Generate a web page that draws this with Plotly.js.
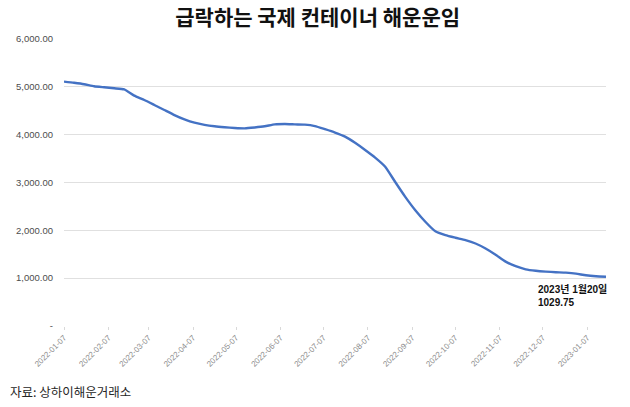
<!DOCTYPE html>
<html>
<head>
<meta charset="utf-8">
<script src="https://cdn.plot.ly/plotly-3.0.1.min.js"></script>
<style>
  html, body { margin: 0; padding: 0; background: #ffffff; }
  #chart { width: 630px; height: 407px; }
</style>
</head>
<body>
<div id="chart"></div>
<script>
// weekly SCFI readings
const weeks = [
    '2022-01-07', '2022-01-14', '2022-01-21', '2022-01-28', '2022-02-04', '2022-02-11',
    '2022-02-18', '2022-02-25', '2022-03-04', '2022-03-11', '2022-03-18', '2022-03-25',
    '2022-04-01', '2022-04-08', '2022-04-15', '2022-04-22', '2022-04-29', '2022-05-06',
    '2022-05-13', '2022-05-20', '2022-05-27', '2022-06-03', '2022-06-10', '2022-06-17',
    '2022-06-24', '2022-07-01', '2022-07-08', '2022-07-15', '2022-07-22', '2022-07-29',
    '2022-08-05', '2022-08-12', '2022-08-19', '2022-08-26', '2022-09-02', '2022-09-09',
    '2022-09-16', '2022-09-23', '2022-09-30', '2022-10-07', '2022-10-14', '2022-10-21',
    '2022-10-28', '2022-11-04', '2022-11-11', '2022-11-18', '2022-11-25', '2022-12-02',
    '2022-12-09', '2022-12-16', '2022-12-23', '2022-12-30', '2023-01-06', '2023-01-13',
    '2023-01-20'
];
const scfi = [
    5109.60, 5085, 5055, 5012, 4990, 4970,
    4945, 4815, 4725, 4620, 4515, 4410,
    4320, 4250, 4205, 4175, 4155, 4140,
    4132, 4150, 4175, 4215, 4222, 4215,
    4210, 4180, 4115, 4045, 3960, 3830,
    3680, 3520, 3330, 3010, 2700, 2420,
    2180, 1980, 1900, 1845, 1795, 1725,
    1620, 1490, 1345, 1250, 1185, 1155,
    1137, 1125, 1115, 1095, 1060, 1040,
    1029.75
];

// axis ticks
const monthTicks = [
    '2022-01-07', '2022-02-07', '2022-03-07', '2022-04-07', '2022-05-07', '2022-06-07',
    '2022-07-07', '2022-08-07', '2022-09-07', '2022-10-07', '2022-11-07', '2022-12-07',
    '2023-01-07'
];
const yTicks = [0, 1000, 2000, 3000, 4000, 5000, 6000];
const yTickText = ['-', '1,000.00', '2,000.00', '3,000.00', '4,000.00', '5,000.00', '6,000.00'];

const titleText = '급락하는 국제 컨테이너 해운운임';
const lastLabel = '2023년 1월20일<br>1029.75';
const sourceText = '자료: 상하이해운거래소';

const trace = {
    x: weeks,
    y: scfi,
    type: 'scatter',
    mode: 'lines',
    line: { color: '#4472C4', width: 2.4, shape: 'spline', smoothing: 0.5 },
    hoverinfo: 'x+y'
};

const layout = {
    width: 630,
    height: 407,
    paper_bgcolor: '#ffffff',
    plot_bgcolor: '#ffffff',
    margin: { l: 64, r: 24, t: 39, b: 81 },
    showlegend: false,
    font: { family: 'Liberation Sans, Arial, sans-serif' },
    title: {
        text: titleText,
        font: { family: 'Noto Sans CJK KR', size: 21, color: '#111111', weight: 'bold' },
        x: 0.468, xanchor: 'center', xref: 'paper',
        y: 0.956, yanchor: 'middle', yref: 'container'
    },
    xaxis: {
        type: 'date',
        range: ['2022-01-07', '2023-01-20'],
        tickvals: monthTicks,
        ticktext: monthTicks,
        tickangle: -45,
        tickfont: { size: 8, color: '#8c8c8c' },
        showgrid: false,
        showline: false,
        zeroline: false,
        ticks: 'outside',
        ticklen: 3,
        tickcolor: '#d9d9d9'
    },
    yaxis: {
        range: [0, 6000],
        tickvals: yTicks,
        ticktext: yTickText,
        tickfont: { size: 9.5, color: '#4d4d4d' },
        showgrid: true,
        gridcolor: '#e0e0e0',
        gridwidth: 1,
        zeroline: false,
        showline: false,
        ticks: '',
        ticklabelstandoff: 10
    },
    annotations: [
        {
            x: '2023-01-20', y: 1029.75, xref: 'x', yref: 'y',
            text: lastLabel, showarrow: false,
            xanchor: 'right', yanchor: 'top', align: 'left',
            xshift: 3, yshift: -4,
            font: { family: 'Liberation Sans, Noto Sans CJK KR, sans-serif', size: 10, color: '#111111', weight: 'bold' }
        },
        {
            x: 0.012, y: 392, xref: 'paper', yref: 'paper',
            text: sourceText, showarrow: false,
            xanchor: 'left', yanchor: 'middle',
            font: { family: 'Noto Sans CJK KR', size: 12.5, color: '#262626' }
        }
    ]
};

// source line sits in the bottom margin: convert pixel row to paper units
layout.annotations[1].y = (407 - 81 - 392) / (407 - 39 - 81);
layout.annotations[1].x = (8 - 64) / (630 - 64 - 24);

Plotly.newPlot('chart', [trace], layout, { displayModeBar: false, staticPlot: true });
</script>
</body>
</html>
